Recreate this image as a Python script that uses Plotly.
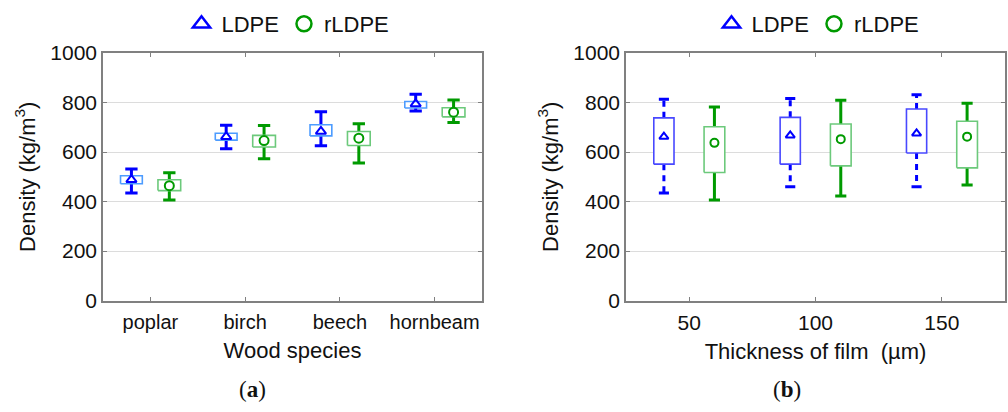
import plotly.graph_objects as go

# ---------------- data ----------------
species = ["poplar", "birch", "beech", "hornbeam"]
a_ldpe_mean = [488, 662, 683, 794]
a_ldpe_q1 = [472, 648, 665, 778]
a_ldpe_q3 = [504, 676, 710, 804]
a_ldpe_lo = [434, 613, 625, 766]
a_ldpe_hi = [531, 708, 763, 833]
a_rldpe_mean = [464, 646, 656, 761]
a_rldpe_q1 = [444, 620, 626, 742]
a_rldpe_q3 = [488, 667, 683, 779]
a_rldpe_lo = [406, 573, 556, 719]
a_rldpe_hi = [516, 707, 714, 810]

thickness = [50, 100, 150]
b_ldpe_mean = [662, 667, 675]
b_ldpe_q1 = [551, 551, 596]
b_ldpe_q3 = [738, 740, 774]
b_ldpe_lo = [434, 460, 460]
b_ldpe_hi = [813, 816, 831]
b_rldpe_mean = [637, 652, 662]
b_rldpe_q1 = [517, 544, 536]
b_rldpe_q3 = [702, 713, 724]
b_rldpe_lo = [406, 422, 467]
b_rldpe_hi = [782, 809, 797]

y_ticks = [0, 200, 400, 600, 800, 1000]

# ---------------- styles ----------------
FONT = "Liberation Sans, Arial, sans-serif"
BLUE = "#0000ff"
BLUE_BOX_A = "#4d9cff"
BLUE_BOX_B = "#4848ff"
GREEN = "#009a00"
GREEN_BOX = "#6cc97b"
AXIS = "#808080"
GRID = "#dcdcdc"


def whisker_path(centers, q1, q3, lo, hi):
    xs, ys = [], []
    for c, a, b, l, h in zip(centers, q1, q3, lo, hi):
        xs += [c, c, None, c, c, None]
        ys += [b, h, None, a, l, None]
    return xs, ys


def cap_path(centers, lo, hi, hw):
    xs, ys = [], []
    for c, l, h in zip(centers, lo, hi):
        xs += [c - hw, c + hw, None, c - hw, c + hw, None]
        ys += [h, h, None, l, l, None]
    return xs, ys


def box_path(centers, q1, q3, hw):
    xs, ys = [], []
    for c, a, b in zip(centers, q1, q3):
        xs += [c - hw, c + hw, c + hw, c - hw, c - hw, None]
        ys += [a, a, b, b, a, None]
    return xs, ys


fig = go.Figure()


def add_group(centers, mean, q1, q3, lo, hi, wcolor, bcolor, symbol, msize,
              box_hw, cap_hw, xa, ya, dash="solid"):
    wx, wy = whisker_path(centers, q1, q3, lo, hi)
    fig.add_trace(go.Scatter(x=wx, y=wy, mode="lines", xaxis=xa, yaxis=ya,
                             line=dict(color=wcolor, width=3, dash=dash),
                             showlegend=False, hoverinfo="skip"))
    cx, cy = cap_path(centers, lo, hi, cap_hw)
    fig.add_trace(go.Scatter(x=cx, y=cy, mode="lines", xaxis=xa, yaxis=ya,
                             line=dict(color=wcolor, width=3),
                             showlegend=False, hoverinfo="skip"))
    bx, by = box_path(centers, q1, q3, box_hw)
    fig.add_trace(go.Scatter(x=bx, y=by, mode="lines", fill="toself",
                             fillcolor="white", xaxis=xa, yaxis=ya,
                             line=dict(color=bcolor, width=1.6),
                             showlegend=False, hoverinfo="skip"))
    fig.add_trace(go.Scatter(x=centers, y=mean, mode="markers", xaxis=xa, yaxis=ya,
                             marker=dict(symbol=symbol, size=msize, color=wcolor,
                                         line=dict(color=wcolor, width=2)),
                             showlegend=False))


# panel (a)
idx = list(range(len(species)))
a_ldpe_x = [i - 0.2 for i in idx]
a_rldpe_x = [i + 0.2 for i in idx]
add_group(a_ldpe_x, a_ldpe_mean, a_ldpe_q1, a_ldpe_q3, a_ldpe_lo, a_ldpe_hi,
          BLUE, BLUE_BOX_A, "triangle-up-open", 9, 0.115, 0.065, "x", "y")
add_group(a_rldpe_x, a_rldpe_mean, a_rldpe_q1, a_rldpe_q3, a_rldpe_lo, a_rldpe_hi,
          GREEN, GREEN_BOX, "circle-open", 9, 0.12, 0.065, "x", "y")

# panel (b)
b_ldpe_x = [t - 10 for t in thickness]
b_rldpe_x = [t + 10 for t in thickness]
add_group(b_ldpe_x, b_ldpe_mean, b_ldpe_q1, b_ldpe_q3, b_ldpe_lo, b_ldpe_hi,
          BLUE, BLUE_BOX_B, "triangle-up-open", 8, 4.0, 2.0, "x2", "y2", dash="6px,5px")
add_group(b_rldpe_x, b_rldpe_mean, b_rldpe_q1, b_rldpe_q3, b_rldpe_lo, b_rldpe_hi,
          GREEN, GREEN_BOX, "circle-open", 8, 4.1, 2.2, "x2", "y2")

# legend entries
for lg, xa, ya in [("legend", "x", "y"), ("legend2", "x2", "y2")]:
    fig.add_trace(go.Scatter(x=[None], y=[None], mode="markers", name="LDPE",
                             xaxis=xa, yaxis=ya, legend=lg,
                             marker=dict(symbol="triangle-up-open", size=15, color=BLUE,
                                         line=dict(color=BLUE, width=2.5))))
    fig.add_trace(go.Scatter(x=[None], y=[None], mode="markers", name="rLDPE",
                             xaxis=xa, yaxis=ya, legend=lg,
                             marker=dict(symbol="circle-open", size=15, color=GREEN,
                                         line=dict(color=GREEN, width=2.5))))

axis_common = dict(showline=True, linecolor=AXIS, linewidth=1.5, mirror="allticks",
                   ticks="inside", ticklen=4, tickcolor=AXIS, tickwidth=1,
                   zeroline=False, automargin=False)

y_dom = [1 - 300.5 / 412, 1 - 53 / 412]
fig.update_layout(
    width=1008, height=412,
    margin=dict(l=0, r=0, t=0, b=0, autoexpand=False),
    paper_bgcolor="white", plot_bgcolor="white",
    font=dict(family=FONT, color="#111"),
    xaxis=dict(domain=[103 / 1008, 482 / 1008], range=[-0.5, 3.5],
               tickvals=idx, ticktext=species, showgrid=False, ticklabelstandoff=3,
               tickfont=dict(family=FONT, size=20, color="#111"),
               title=dict(text="Wood species", font=dict(size=22), standoff=10),
               **axis_common),
    yaxis=dict(domain=y_dom, range=[0, 1000], tickvals=y_ticks, showgrid=True,
               gridcolor=GRID, gridwidth=1,
               tickfont=dict(family=FONT, size=21, color="#111"),
               title=dict(text="Density (kg/m<sup>3</sup>)", font=dict(size=22), standoff=9),
               **axis_common),
    xaxis2=dict(domain=[626 / 1008, 1005 / 1008], range=[25, 175],
                tickvals=thickness, showgrid=False, anchor="y2", ticklabelstandoff=3,
                tickfont=dict(family=FONT, size=21, color="#111"),
                title=dict(text="Thickness of film  (µm)", font=dict(size=22), standoff=10),
                **axis_common),
    yaxis2=dict(domain=y_dom, range=[0, 1000], tickvals=y_ticks, showgrid=True,
                gridcolor=GRID, gridwidth=1, anchor="x2",
                tickfont=dict(family=FONT, size=21, color="#111"),
                title=dict(text="Density (kg/m<sup>3</sup>)", font=dict(size=22), standoff=9),
                **axis_common),
    legend=dict(orientation="h", x=288 / 1008, xanchor="center", y=1 - 24 / 412,
                yanchor="middle", font=dict(family=FONT, size=22, color="#111"),
                itemwidth=30, bgcolor="rgba(0,0,0,0)"),
    legend2=dict(orientation="h", x=818 / 1008, xanchor="center", y=1 - 24 / 412,
                 yanchor="middle", font=dict(family=FONT, size=22, color="#111"),
                 itemwidth=30, bgcolor="rgba(0,0,0,0)"),
    annotations=[
        dict(text="(<b>a</b>)", x=252 / 1008, y=1 - 389 / 412, xref="paper", yref="paper",
             xanchor="center", yanchor="middle",
             showarrow=False, font=dict(family="Liberation Serif, serif", size=23, color="#111")),
        dict(text="(<b>b</b>)", x=787 / 1008, y=1 - 389 / 412, xref="paper", yref="paper",
             xanchor="center", yanchor="middle",
             showarrow=False, font=dict(family="Liberation Serif, serif", size=23, color="#111")),
    ],
)

fig.write_html("out.html")
